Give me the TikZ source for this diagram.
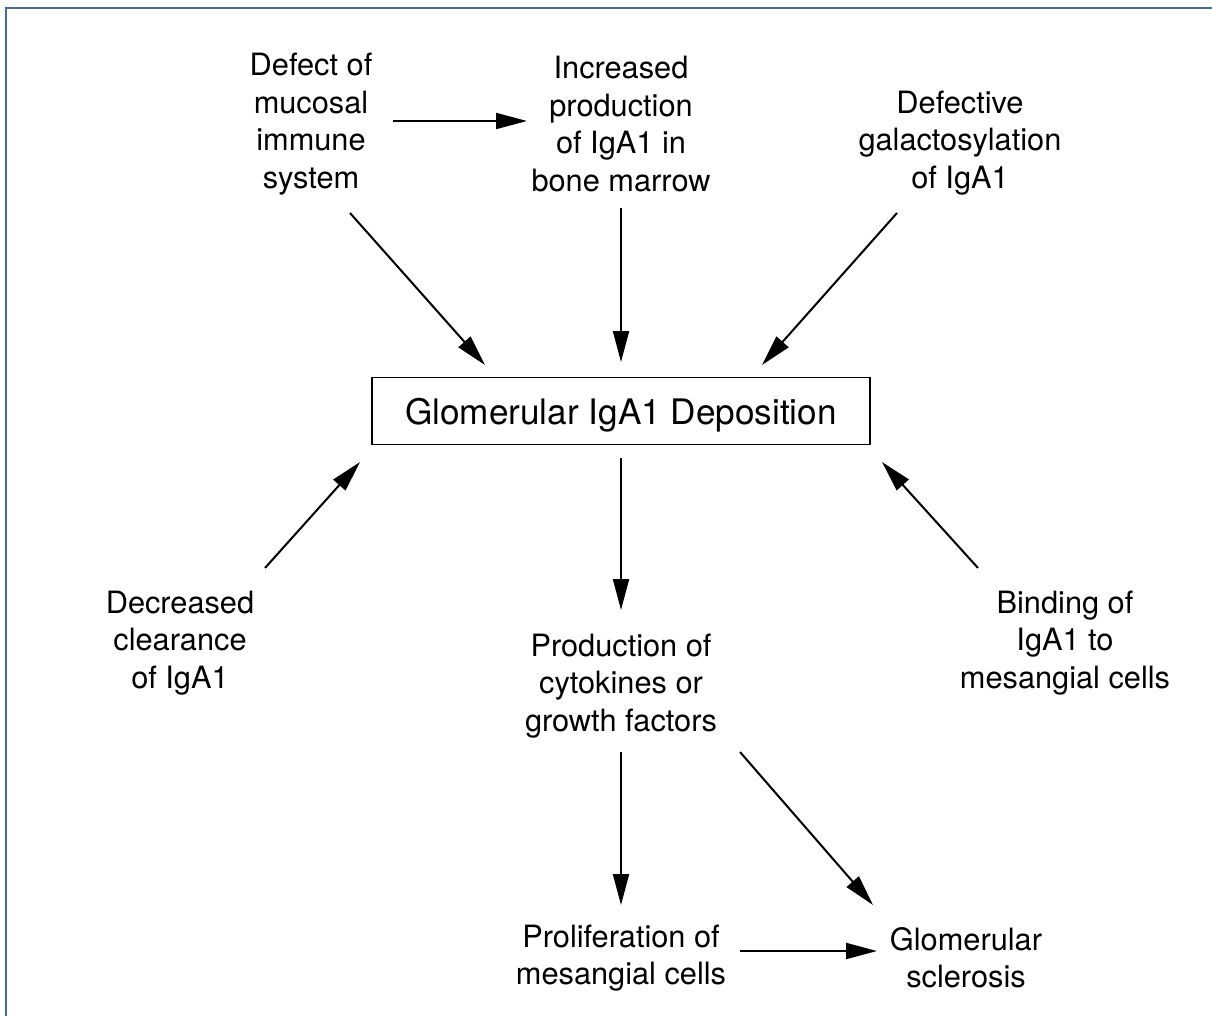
\documentclass[tikz,border=0pt]{standalone}
\usepackage{fontspec}
\setmainfont{TeX Gyre Heros}
\usetikzlibrary{arrows.meta}
\definecolor{frameblue}{RGB}{68,106,160}
\begin{document}
\begin{tikzpicture}[x=0.02cm,y=-0.02cm,
  lbl/.style={align=center,font=\fontsize{17.5}{21.3}\selectfont,inner sep=0pt},
  boxnode/.style={draw,line width=1.1pt,minimum width=9.96cm,minimum height=1.34cm,
    font=\fontsize{20}{24}\selectfont,inner sep=0pt,text depth=0pt},
  arr/.style={line width=1.15pt,-{Triangle[length=0.62cm,width=0.32cm]}}]
\useasboundingbox (0,0) rectangle (1212,1016);
\draw[frameblue,line width=1.6pt] (6,1016) -- (6,8) -- (1212,8);

\node[lbl] (defect) at (311,124) {Defect of\\mucosal\\immune\\system};
\node[lbl] (incr) at (621,124) {Increased\\production\\of IgA1 in\\bone marrow};
\node[lbl] (galac) at (960,143) {Defective\\galactosylation\\of IgA1};
\node[boxnode] (box) at (621,411) {Glomerular IgA1 Deposition};
\node[lbl] (clear) at (180,643) {Decreased\\clearance\\of IgA1};
\node[lbl] (prod) at (621,686) {Production of\\cytokines or\\growth factors};
\node[lbl] (bind) at (1065,643) {Binding of\\IgA1 to\\mesangial cells};
\node[lbl] (prolif) at (621,958) {Proliferation of\\mesangial cells};
\node[lbl] (scler) at (966,958) {Glomerular\\sclerosis};

\coordinate (d0) at (350,213); \coordinate (d1) at (485,365);
\coordinate (g0) at (897,213); \coordinate (g1) at (762,365);
\coordinate (c0) at (265,568); \coordinate (c1) at (360,462);
\coordinate (b0) at (978,568); \coordinate (b1) at (882,462);
\coordinate (p0) at (740,752); \coordinate (p1) at (873,905);
\coordinate (i0) at (621,208); \coordinate (i1) at (621,362);
\coordinate (x0) at (621,458); \coordinate (x1) at (621,610);
\coordinate (y0) at (621,752); \coordinate (y1) at (621,905);
\coordinate (h0) at (393,121); \coordinate (h1) at (527,121);
\coordinate (s0) at (740,951); \coordinate (s1) at (877,951);

\draw[arr] (h0) -- (h1);
\draw[arr] (i0) -- (i1);
\draw[arr] (d0) -- (d1);
\draw[arr] (g0) -- (g1);
\draw[arr] (c0) -- (c1);
\draw[arr] (b0) -- (b1);
\draw[arr] (x0) -- (x1);
\draw[arr] (y0) -- (y1);
\draw[arr] (p0) -- (p1);
\draw[arr] (s0) -- (s1);
\end{tikzpicture}
\end{document}
